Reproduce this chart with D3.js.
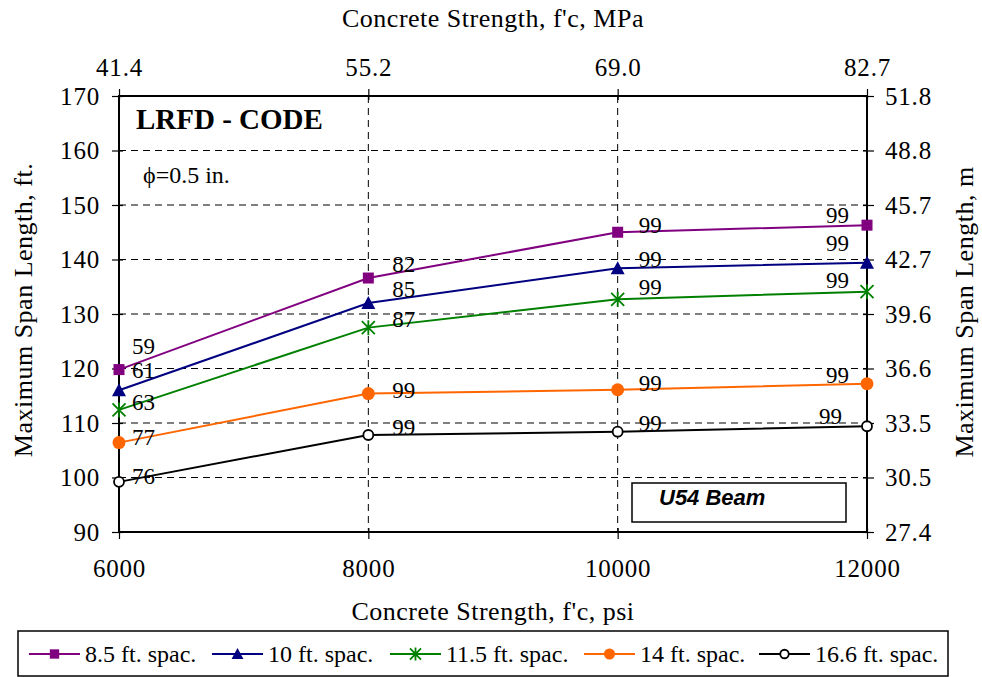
<!DOCTYPE html>
<html><head><meta charset="utf-8">
<script src="https://cdn.jsdelivr.net/npm/d3@7"></script>
<style>body{margin:0;background:#fff}svg{display:block}</style>
</head><body>
<svg id="c" width="982" height="677"></svg>
<script>
const xVals = [6000, 8000, 10000, 12000];
const yTicks = [90, 100, 110, 120, 130, 140, 150, 160, 170];
const mpaTicks = ["41.4", "55.2", "69.0", "82.7"];
const meterTicks = ["27.4", "30.5", "33.5", "36.6", "39.6", "42.7", "45.7", "48.8", "51.8"];
const seriesNames = ["8.5 ft. spac.", "10 ft. spac.", "11.5 ft. spac.", "14 ft. spac.", "16.6 ft. spac."];
const s85 = [119.8, 136.6, 145.0, 146.3];
const s10 = [116.0, 132.0, 138.4, 139.4];
const s115 = [112.4, 127.5, 132.7, 134.1];
const s14 = [106.4, 115.4, 116.1, 117.2];
const s166 = [99.2, 107.8, 108.4, 109.4];
const lab85 = ["59", "82", "99", "99"];
const lab10 = ["61", "85", "99", "99"];
const lab115 = ["63", "87", "99", "99"];
const lab14 = ["77", "99", "99", "99"];
const lab166 = ["76", "99", "99", "99"];

const colors = ["#800080", "#000080", "#008000", "#FF6600", "#000000"];
const markers = ["square", "triangle", "star", "dot", "ring"];
const series = [s85, s10, s115, s14, s166].map((v, i) => ({
  name: seriesNames[i], values: v, labels: [lab85, lab10, lab115, lab14, lab166][i],
  color: colors[i], marker: markers[i]
}));

// label placement offsets (style): [column][series] vertical shift of baseline
const labelDy = [[-16, -12, 0, 2, 2], [-6, -6, -1, 4, 0], [1, -1, -4, 1, -1], [-2, -12, -4, -1, -2]];
const labelDx = [13, 24, 21, -18];

const svg = d3.select("#c");
const serif = "'Liberation Serif', 'Times New Roman', serif";
const L = 119, R = 867, T = 96, B = 532;
const x = d3.scaleLinear().domain([6000, 12000]).range([L, R]);
const y = d3.scaleLinear().domain([90, 170]).range([B, T]);

// grid
const g = svg.append("g");
g.selectAll(".hg").data(yTicks.slice(1, -1)).enter().append("line")
  .attr("x1", L).attr("x2", R).attr("y1", d => y(d)).attr("y2", d => y(d))
  .attr("stroke", "#000").attr("stroke-width", 1).attr("stroke-dasharray", "7,5");
g.selectAll(".vg").data(xVals.slice(1, -1)).enter().append("line")
  .attr("y1", T).attr("y2", B).attr("x1", d => x(d)).attr("x2", d => x(d))
  .attr("stroke", "#000").attr("stroke-width", 1).attr("stroke-dasharray", "7,5");

// axes
function styleAxis(sel) {
  sel.select(".domain").remove();
  sel.selectAll(".tick line").attr("stroke", "#000").attr("stroke-width", 1.2);
  sel.selectAll(".tick text").attr("font-family", serif).attr("font-size", 25)
    .attr("letter-spacing", "0.8px").attr("fill", "#000");
}
const axL = svg.append("g").attr("transform", `translate(${L},0)`)
  .call(d3.axisLeft(y).tickValues(yTicks).tickSize(7).tickPadding(12).tickFormat(d3.format("d")));
styleAxis(axL); axL.selectAll(".tick line").attr("x1", 4);
const axR = svg.append("g").attr("transform", `translate(${R},0)`)
  .call(d3.axisRight(y).tickValues(yTicks).tickSize(7).tickPadding(11).tickFormat((d, i) => meterTicks[i]));
styleAxis(axR); axR.selectAll(".tick line").attr("x1", -4);
const axB = svg.append("g").attr("transform", `translate(0,${B})`)
  .call(d3.axisBottom(x).tickValues(xVals).tickSize(7).tickPadding(20).tickFormat(d3.format("d")));
styleAxis(axB); axB.selectAll(".tick line").attr("y1", -4);
const axT = svg.append("g").attr("transform", `translate(0,${T})`)
  .call(d3.axisTop(x).tickValues(xVals).tickSize(7).tickPadding(13).tickFormat((d, i) => mpaTicks[i]));
styleAxis(axT); axT.selectAll(".tick line").attr("y1", 4);

// frame
svg.append("rect").attr("x", L).attr("y", T).attr("width", R - L).attr("height", B - T)
  .attr("fill", "none").attr("stroke", "#000").attr("stroke-width", 2);

// titles
function title(t) {
  return t.attr("text-anchor", "middle").attr("font-family", serif).attr("font-size", 26).attr("letter-spacing", "0.5px");
}
title(svg.append("text").attr("x", 493).attr("y", 620)).text("Concrete Strength, f'c, psi");
title(svg.append("text").attr("x", 493).attr("y", 27)).text("Concrete Strength, f'c, MPa");
title(svg.append("text").attr("transform", "translate(32,310) rotate(-90)")).text("Maximum Span Length, ft.");
title(svg.append("text").attr("transform", "translate(973,312) rotate(-90)")).text("Maximum Span Length, m");

svg.append("text").attr("x", 136).attr("y", 129).attr("font-family", serif).attr("font-weight", "bold")
  .attr("font-size", 29).text("LRFD - CODE");
svg.append("text").attr("x", 143).attr("y", 183).attr("font-family", serif)
  .attr("font-size", 24).text("\u03D5=0.5 in.");

svg.append("rect").attr("x", 632).attr("y", 483).attr("width", 214).attr("height", 39)
  .attr("fill", "#fff").attr("stroke", "#000").attr("stroke-width", 1.5);
svg.append("text").attr("x", 659).attr("y", 505).attr("font-family", "'Liberation Sans', Arial, sans-serif")
  .attr("font-weight", "bold").attr("font-style", "italic").attr("font-size", 22).text("U54 Beam");

// marker drawing
function drawMarker(sel, type, color, cx, cy, s) {
  s = s || 1;
  if (type === "square") sel.append("rect").attr("x", cx - 5.5 * s).attr("y", cy - 5.5 * s)
    .attr("width", 11 * s).attr("height", 11 * s).attr("fill", color);
  else if (type === "triangle") sel.append("path")
    .attr("d", `M${cx},${cy - 7 * s}L${cx + 7 * s},${cy + 6 * s}L${cx - 7 * s},${cy + 6 * s}Z`).attr("fill", color);
  else if (type === "star") {
    const r = 6.5 * s;
    sel.append("path").attr("d", `M${cx - r},${cy - r}L${cx + r},${cy + r}M${cx - r},${cy + r}L${cx + r},${cy - r}M${cx},${cy - r - 1}L${cx},${cy + r + 1}`)
      .attr("stroke", color).attr("stroke-width", 1.8).attr("fill", "none");
  } else if (type === "dot") sel.append("circle").attr("cx", cx).attr("cy", cy).attr("r", 6.5 * s).attr("fill", color);
  else if (type === "ring") sel.append("circle").attr("cx", cx).attr("cy", cy).attr("r", 5 * s)
    .attr("fill", "#fff").attr("stroke", color).attr("stroke-width", 1.8);
}

const line = d3.line().x((d, i) => x(xVals[i])).y(d => y(d));
series.forEach((s, si) => {
  const sg = svg.append("g");
  sg.append("path").attr("d", line(s.values)).attr("fill", "none").attr("stroke", s.color).attr("stroke-width", 2);
  s.values.forEach((v, i) => drawMarker(sg, s.marker, s.color, x(xVals[i]), y(v)));
  s.values.forEach((v, i) => {
    const last = i === xVals.length - 1;
    const dx = labelDx[i] - (last && si === 4 ? 7 : 0);
    sg.append("text")
      .attr("x", x(xVals[i]) + dx)
      .attr("y", y(v) + labelDy[i][si])
      .attr("text-anchor", last ? "end" : "start")
      .attr("font-family", serif).attr("font-size", 23).text(s.labels[i]);
  });
});

// legend
const lg = svg.append("g");
lg.append("rect").attr("x", 18).attr("y", 631).attr("width", 930).attr("height", 45)
  .attr("fill", "#fff").attr("stroke", "#000").attr("stroke-width", 1.5);
const legX = [29, 212, 390, 584, 759];
series.forEach((s, i) => {
  const lx = legX[i], ly = 654;
  lg.append("line").attr("x1", lx).attr("x2", lx + 51).attr("y1", ly).attr("y2", ly)
    .attr("stroke", s.color).attr("stroke-width", 2);
  drawMarker(lg, s.marker, s.color, lx + 25.5, ly, 0.85);
  lg.append("text").attr("x", lx + 56).attr("y", ly + 8).attr("font-family", serif)
    .attr("font-size", 24).text(s.name);
});
</script>
</body></html>
